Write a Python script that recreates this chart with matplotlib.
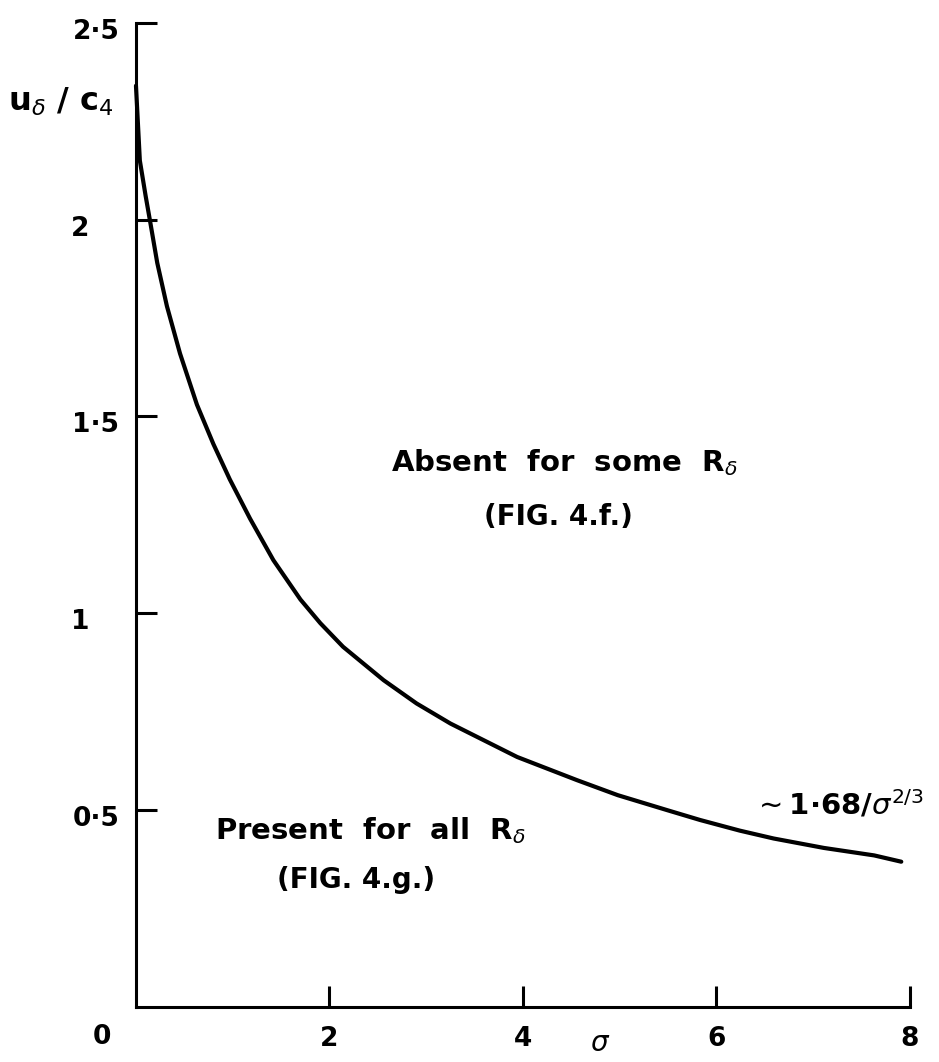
import matplotlib
matplotlib.use("Agg")
import matplotlib.pyplot as plt
import matplotlib.transforms as mtransforms

# curve: sigma -> u_delta / c_4
sigma = [0.0, 0.04, 0.10, 0.15, 0.22, 0.32, 0.455, 0.63, 0.80, 0.97, 1.18,
         1.42, 1.70, 1.905, 2.14, 2.56, 2.90, 3.25, 3.94, 4.56, 4.98, 5.49,
         5.83, 6.24, 6.59, 7.11, 7.63, 7.91]
u_ratio = [2.34, 2.15, 2.06, 1.99, 1.89, 1.78, 1.66, 1.53, 1.43, 1.34, 1.24,
           1.135, 1.035, 0.975, 0.915, 0.83, 0.771, 0.72, 0.635, 0.576,
           0.538, 0.50, 0.475, 0.448, 0.428, 0.404, 0.385, 0.369]

x_ticks = [2, 4, 6, 8]
x_labels = ["2", "4", "6", "8"]
y_ticks = [0.5, 1, 1.5, 2, 2.5]
y_labels = ["0·5", "1", "1·5", "2", "2·5"]

plt.rcParams['font.family'] = ['DejaVu Sans']
plt.rcParams['mathtext.fontset'] = 'dejavusans'

fig = plt.figure(figsize=(9.39, 10.62), dpi=100)
ax = fig.add_axes([0.1448, 0.0518, 0.8243, 0.9268])

ax.plot(sigma, u_ratio, color='black', lw=3.0, solid_capstyle='round',
        solid_joinstyle='round', clip_on=False)

ax.set_xlim(0, 8)
ax.set_ylim(0, 2.5)
for s in ['top', 'right']:
    ax.spines[s].set_visible(False)
for s in ['left', 'bottom']:
    ax.spines[s].set_linewidth(2.2)

ax.set_xticks(x_ticks, x_labels)
ax.set_yticks(y_ticks, y_labels)
ax.tick_params(axis='both', direction='in', length=15, width=2.2,
               labelsize=19)
ax.tick_params(axis='x', pad=14)
ax.tick_params(axis='y', pad=12)
for lab in ax.get_xticklabels() + ax.get_yticklabels():
    lab.set_fontweight('bold')

# hand placed single digits sit further left
for lab in ax.get_yticklabels():
    dx = -30 if len(lab.get_text()) == 1 else 0
    lab.set_transform(lab.get_transform() +
                      mtransforms.ScaledTranslation(dx / 100, -6 / 100,
                                                    fig.dpi_scale_trans))

ax.text(-0.35, -0.076, "0", ha='center', va='center', fontsize=19,
        fontweight='bold', clip_on=False)
ax.text(4.80, -0.092, r"$\sigma$", ha='center', va='center', fontsize=20,
        clip_on=False)
ax.text(-0.78, 2.30, r"u$_\delta$ / c$_4$", ha='center', va='center',
        fontsize=23, fontweight='bold', clip_on=False)

ax.text(4.43, 1.383, r"Absent  for  some  R$_\delta$", ha='center',
        va='center', fontsize=21, fontweight='bold')
ax.text(4.37, 1.244, "(FIG. 4.f.)", ha='center', va='center', fontsize=20,
        fontweight='bold')
ax.text(2.42, 0.449, r"Present  for  all  R$_\delta$", ha='center',
        va='center', fontsize=21, fontweight='bold')
ax.text(2.27, 0.322, "(FIG. 4.g.)", ha='center', va='center', fontsize=20,
        fontweight='bold')
ax.text(6.38, 0.513, r"$\sim$1·68/$\sigma^{2/3}$", ha='left', va='center',
        fontsize=21, fontweight='bold', clip_on=False)

fig.savefig("out.png", dpi=100)
